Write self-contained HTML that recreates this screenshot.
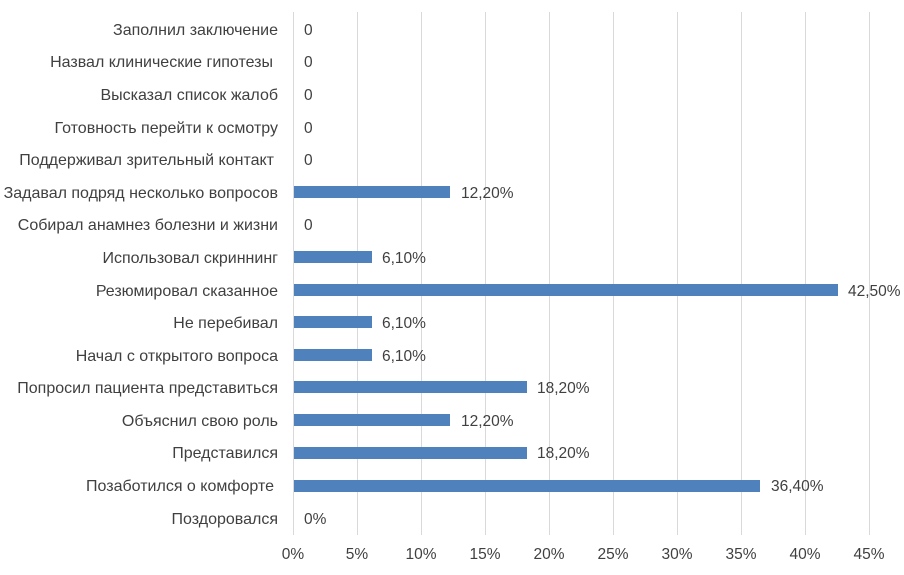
<!DOCTYPE html>
<html><head><meta charset="utf-8"><style>body{margin:0;background:#fff}svg{display:block}text{font-family:"Liberation Sans",sans-serif;font-size:15.5px;fill:#404040}.c text{font-size:16px}</style></head>
<body>
<svg width="904" height="575" xmlns="http://www.w3.org/2000/svg">
<g stroke="#d9d9d9" stroke-width="1">
<line x1="293.5" y1="12" x2="293.5" y2="535"/><line x1="357.5" y1="12" x2="357.5" y2="535"/><line x1="421.5" y1="12" x2="421.5" y2="535"/><line x1="485.5" y1="12" x2="485.5" y2="535"/><line x1="549.5" y1="12" x2="549.5" y2="535"/><line x1="613.5" y1="12" x2="613.5" y2="535"/><line x1="677.5" y1="12" x2="677.5" y2="535"/><line x1="741.5" y1="12" x2="741.5" y2="535"/><line x1="805.5" y1="12" x2="805.5" y2="535"/><line x1="869.5" y1="12" x2="869.5" y2="535"/>
</g>
<g text-anchor="middle">
<text x="293" y="559">0%</text><text x="357" y="559">5%</text><text x="421" y="559">10%</text><text x="485" y="559">15%</text><text x="549" y="559">20%</text><text x="613" y="559">25%</text><text x="677" y="559">30%</text><text x="741" y="559">35%</text><text x="805" y="559">40%</text><text x="869" y="559">45%</text>
</g>
<g fill="#4f81bd">
<rect x="294" y="186" width="156" height="12"/>
<rect x="294" y="251" width="78" height="12"/>
<rect x="294" y="284" width="544" height="12"/>
<rect x="294" y="316" width="78" height="12"/>
<rect x="294" y="349" width="78" height="12"/>
<rect x="294" y="381" width="233" height="12"/>
<rect x="294" y="414" width="156" height="12"/>
<rect x="294" y="447" width="233" height="12"/>
<rect x="294" y="480" width="466" height="12"/>
</g>
<g text-anchor="end" class="c">
<text x="278" y="35">Заполнил заключение</text>
<text x="273" y="67">Назвал клинические гипотезы</text>
<text x="278" y="100">Высказал список жалоб</text>
<text x="278" y="133">Готовность перейти к осмотру</text>
<text x="274" y="165">Поддерживал зрительный контакт</text>
<text x="278" y="198">Задавал подряд несколько вопросов</text>
<text x="278" y="230">Собирал анамнез болезни и жизни</text>
<text x="278" y="263">Использовал скриннинг</text>
<text x="278" y="296">Резюмировал сказанное</text>
<text x="278" y="328">Не перебивал</text>
<text x="278" y="361">Начал с открытого вопроса</text>
<text x="278" y="393">Попросил пациента представиться</text>
<text x="278" y="426">Объяснил свою роль</text>
<text x="278" y="458">Представился</text>
<text x="274" y="491">Позаботился о комфорте</text>
<text x="278" y="524">Поздоровался</text>
</g>
<g>
<text x="304" y="35">0</text><text x="304" y="67">0</text><text x="304" y="100">0</text><text x="304" y="133">0</text><text x="304" y="165">0</text>
<text x="461" y="198">12,20%</text>
<text x="304" y="230">0</text>
<text x="382" y="263">6,10%</text>
<text x="848" y="296">42,50%</text>
<text x="382" y="328">6,10%</text>
<text x="382" y="361">6,10%</text>
<text x="537" y="393">18,20%</text>
<text x="461" y="426">12,20%</text>
<text x="537" y="458">18,20%</text>
<text x="771" y="491">36,40%</text>
<text x="304" y="524">0%</text>
</g>
</svg>
</body></html>
